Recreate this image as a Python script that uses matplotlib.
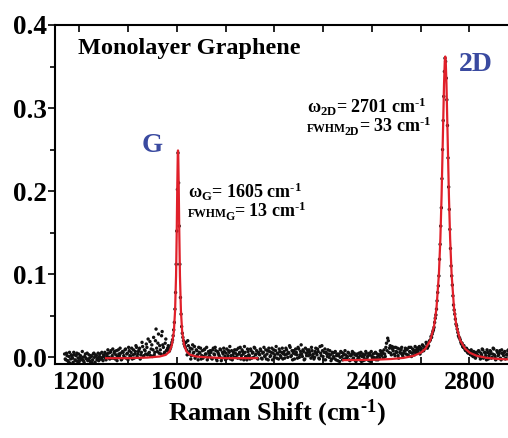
import numpy as np
import matplotlib.pyplot as plt
from matplotlib.ticker import MultipleLocator

plt.rcParams['font.family'] = ['Liberation Serif', 'DejaVu Serif']
plt.rcParams['font.weight'] = 'bold'
plt.rcParams['mathtext.fontset'] = 'custom'
plt.rcParams['mathtext.rm'] = 'Liberation Serif:bold'
plt.rcParams['mathtext.it'] = 'Liberation Serif:bold:italic'
plt.rcParams['mathtext.bf'] = 'Liberation Serif:bold'

# measured spectrum, two interleaved scans on a 5 cm-1 grid
shift_start = 1140
shift_start_b = 1142.5
shift_step = 5
# intensity in units of 1e-3 (a.u.)
intensity_milli = [
    4, -3, 2, -5, 6, -2, 1, -6, 3, -4, 5, -1, -5, 2, -3, 0, -6, 4, -2, -4,
    3, -5, 1, -3, 5, -6, 2, -1, -4, 4, -2, 0, 3, 6, -3, 1, 5, -2, 8, 2,
    -1, 7, 3, -4, 9, 2, 5, -2, 6, 0, 10, 4, -3, 8, 1, 11, 3, -1, 7, 12,
    4, 9, -2, 6, 13, 2, 8, 16, 3, 5, 19, 10, 1, 24, 6, 34, 7, 28, 14, 4,
    31, 12, 6, 22, 9, 14, 8, 12, 18, 26, 42, 78, 152, 246, 158, 72, 37, 24, 16, 12,
    9, 20, 4, 11, 2, 15, 6, -1, 9, 3, 12, 5, -2, 8, 1, 10, 4, -3, 7, 2,
    6, -2, 11, 3, 8, -4, 5, 1, 9, -1, 4, 7, -3, 10, 2, 6, -2, 8, 3, 0,
    5, 9, -1, 4, 12, 2, 7, -3, 6, 1, 10, 3, -2, 8, 5, 0, 11, 4, -1, 6,
    3, 8, -2, 6, 1, 9, 4, -3, 7, 2, 11, 5, 0, 8, -1, 4, 10, 2, 6, -2,
    7, 3, 9, 0, 5, 12, 2, -3, 8, 4, 6, -1, 10, 3, 15, 1, 7, -2, 5, 9,
    2, 6, -1, 8, 4, 0, 11, 3, 7, -2, 5, 14, 1, 6, -3, 4, 9, 0, 3, -2,
    5, -1, 7, 2, -4, 4, 0, 6, -3, 3, 8, -2, 1, 5, -4, 2, 7, -1, 3, -5,
    4, 0, -3, 6, 1, -4, 3, 7, -2, 2, 5, -5, 1, 4, -2, 6, 0, -3, 3, 8,
    2, 5, 9, 1, 17, 23, 6, 14, 3, 10, 12, 2, 7, 11, -1, 6, 9, 3, 5, 8,
    4, 10, 2, 7, 12, 5, 9, 3, 8, 11, 6, 13, 9, 7, 14, 10, 12, 16, 13, 19,
    21, 24, 31, 36, 47, 58, 78, 98, 136, 180, 250, 314, 360, 336, 279, 205, 154, 110, 87, 63,
    52, 40, 34, 26, 23, 18, 17, 12, 11, 8, 10, 5, 7, 3, 6, 1, 5, -1, 4, 2,
    7, -2, 3, 9, 0, 5, -3, 6, 2, 8, -1, 4, 10, 1, -2, 6, 3, 8, -3, 5,
    2, 7, -1, 4, 9, 0, 5, -2, 6, 3, 1,
]
intensity_milli_b = [
    -2, 5, -4, 1, -7, 3, -1, 6, -3, 2, -5, 4, 0, -2, 7, -4, 1, -1, 5, -3,
    -1, 2, -6, 4, 0, 3, -3, 5, 1, -2, 6, -4, 2, -1, 4, 9, 0, 6, -1, 10,
    5, -2, 8, 1, 4, 11, -3, 7, 2, 9, -1, 5, 12, 2, 6, -2, 9, 4, 14, 1,
    7, 11, 3, 18, 1, 9, 4, 12, 22, 6, 2, 15, 9, 3, 20, 11, 17, 5, 9, 26,
    15, 4, 17, 8, 11, 7, 10, 15, 21, 33, 58, 112, 202, 210, 112, 52, 29, 20, 14, 18,
    3, 14, 7, -2, 10, 5, 13, 1, 8, -3, 6, 11, 2, -1, 9, 4, 12, 0, 5, 8,
    -1, 9, 4, 12, -2, 7, 3, 10, -4, 6, 11, 1, 5, -1, 8, 13, 2, -3, 6, 9,
    0, 3, 11, 6, -2, 9, 4, 13, 1, -3, 7, 2, 10, -1, 6, 12, 3, 8, -2, 4,
    10, -1, 5, 12, 2, -2, 8, 11, 1, 6, -3, 9, 3, 13, 5, -2, 7, 0, 11, 4,
    -1, 11, 4, 6, 14, 1, 8, 5, -2, 10, 3, 12, 0, 7, 4, 9, -3, 11, 2, 6,
    9, 3, 12, 1, -2, 7, 5, 10, -1, 13, 2, 8, -3, 10, 6, 1, 4, 8, -4, 6,
    1, 6, -3, 4, 2, -5, 7, 1, 5, -2, 3, 0, 6, -3, 2, 4, -2, 5, -4, 2,
    -2, 5, 2, -5, 4, 0, -3, 5, 1, -4, 3, 7, -2, 0, 5, -3, 4, 2, -1, 5,
    7, -1, 4, 12, 8, 20, 11, 5, 13, 8, 4, 12, 6, 2, 10, 5, 12, 1, 7, 11,
    9, 3, 12, 6, 1, 10, 7, 13, 5, 9, 12, 4, 11, 15, 8, 12, 18, 11, 14, 20,
    25, 28, 33, 42, 51, 68, 86, 118, 158, 215, 285, 344, 356, 310, 240, 178, 131, 98, 74, 57,
    46, 38, 30, 24, 21, 16, 13, 14, 9, 11, 6, 8, 4, 9, 2, 7, 0, 6, 3, 8,
    1, 5, 10, -1, 6, 2, 9, -2, 4, 7, 0, 11, 3, -3, 8, 2, 5, -1, 9, 4,
    6, -2, 3, 8, 1, -3, 7, 2, 10, 0, 4,
]

# Lorentzian fits
fit_g_x = [1310, 1400, 1480, 1530, 1555, 1570, 1580, 1588, 1593, 1597, 1600, 1602,
           1604, 1605, 1606, 1608, 1610, 1613, 1617, 1622, 1630, 1640, 1655, 1680,
           1720, 1800, 1930]
fit_g_y = [-0.001, -0.001, -0.0003, 0.001, 0.003, 0.007, 0.015, 0.031, 0.056, 0.098,
           0.156, 0.205, 0.243, 0.249, 0.243, 0.205, 0.156, 0.098, 0.056, 0.031,
           0.015, 0.007, 0.003, 0.001, 0.0, -0.001, -0.001]
fit_2d_x = [2283, 2350, 2420, 2480, 2530, 2570, 2600, 2620, 2640, 2655, 2665, 2675,
            2681, 2686, 2691, 2696, 2699, 2701, 2703, 2706, 2711, 2716, 2721, 2727,
            2737, 2747, 2762, 2782, 2802, 2830, 2870, 2920, 2990]
fit_2d_y = [-0.0034, -0.0032, -0.0028, -0.002, -0.0007, 0.0017, 0.0054, 0.0105,
            0.0207, 0.0374, 0.059, 0.1002, 0.143, 0.195, 0.262, 0.329, 0.356, 0.362,
            0.356, 0.329, 0.262, 0.195, 0.143, 0.1002, 0.059, 0.0374, 0.0207, 0.0105,
            0.0054, 0.0019, -0.0006, -0.002, -0.0028]

intensity = np.array(intensity_milli) * 1e-3
shift = shift_start + shift_step * np.arange(len(intensity))
intensity_b = np.array(intensity_milli_b) * 1e-3
shift_b = shift_start_b + shift_step * np.arange(len(intensity_b))

fig = plt.figure(figsize=(5.08, 4.38), dpi=100)
ax = fig.add_axes([0.108, 0.169, 0.912, 0.774])

ax.scatter(shift, intensity, s=6, color='#111111', edgecolors='none', zorder=2)
ax.scatter(shift_b, intensity_b, s=6, color='#111111', edgecolors='none', zorder=2)
ax.plot(fit_g_x, fit_g_y, color='#e0202a', lw=1.6, zorder=3)
ax.plot(fit_2d_x, fit_2d_y, color='#e0202a', lw=1.6, zorder=3)

ax.set_xlim(1100, 3000)
ax.set_ylim(-0.008, 0.4)

ax.xaxis.set_major_locator(MultipleLocator(400))
ax.xaxis.set_minor_locator(MultipleLocator(200))
ax.yaxis.set_major_locator(MultipleLocator(0.1))
ax.yaxis.set_minor_locator(MultipleLocator(0.05))
ax.yaxis.set_major_formatter(plt.FormatStrFormatter('%.1f'))
ax.tick_params(axis='x', which='both', direction='in', top=True, length=5, width=1.2,
               labelsize=18.5, pad=5)
ax.tick_params(axis='y', which='major', direction='out', length=5, width=1.2,
               labelsize=19.5, pad=1)
ax.tick_params(axis='y', which='minor', direction='out', length=3.5, width=1.2)
for side in ['left', 'bottom', 'top']:
    ax.spines[side].set_linewidth(1.5)

ax.set_xlabel('Raman Shift (cm$^{\\text{-1}}$)', fontsize=19, fontweight='bold',
              labelpad=3)
ax.xaxis.label.set_x(0.48)

ax.text(0.05, 0.93, 'Monolayer Graphene', transform=ax.transAxes, fontsize=17.5,
        fontweight='bold', va='center', ha='left')
ax.text(1500, 0.255, 'G', color='#3a4aa0', fontsize=19.5, fontweight='bold',
        ha='center', va='center')
ax.text(2828, 0.352, '2D', color='#3a4aa0', fontsize=20, fontweight='bold',
        ha='center', va='center')


def right_edge(t, tuck=0.0):
    # right end of a drawn text in data x, pulled in by `tuck` pixels
    fig.canvas.draw()
    x1 = t.get_window_extent().x1 - tuck
    return ax.transData.inverted().transform((x1, 0))[0]


def fwhm_line(x, y, sub, value):
    # small "FWHM", a lowered subscript, then the value in the larger size
    t = ax.text(x, y, 'FWHM', fontsize=8.5, fontweight='bold', va='baseline')
    t = ax.text(right_edge(t, 1.5), y - 0.004, sub, fontsize=8.5, fontweight='bold',
                va='baseline')
    ax.text(right_edge(t, 0.5), y, '= ' + value + ' cm$^{\\text{-1}}$', fontsize=13,
            fontweight='bold', va='baseline')


ax.text(1647, 0.1916, 'ω$_{\\mathregular{G}}$= 1605 cm$^{\\text{-1}}$',
        fontsize=13, fontweight='bold', va='baseline')
fwhm_line(1647, 0.1687, 'G', '13')
ax.text(2135, 0.294, 'ω$_{\\mathregular{2D}}$= 2701 cm$^{\\text{-1}}$',
        fontsize=13, fontweight='bold', va='baseline')
fwhm_line(2135, 0.271, '2D', '33')

plt.savefig('out.png')
